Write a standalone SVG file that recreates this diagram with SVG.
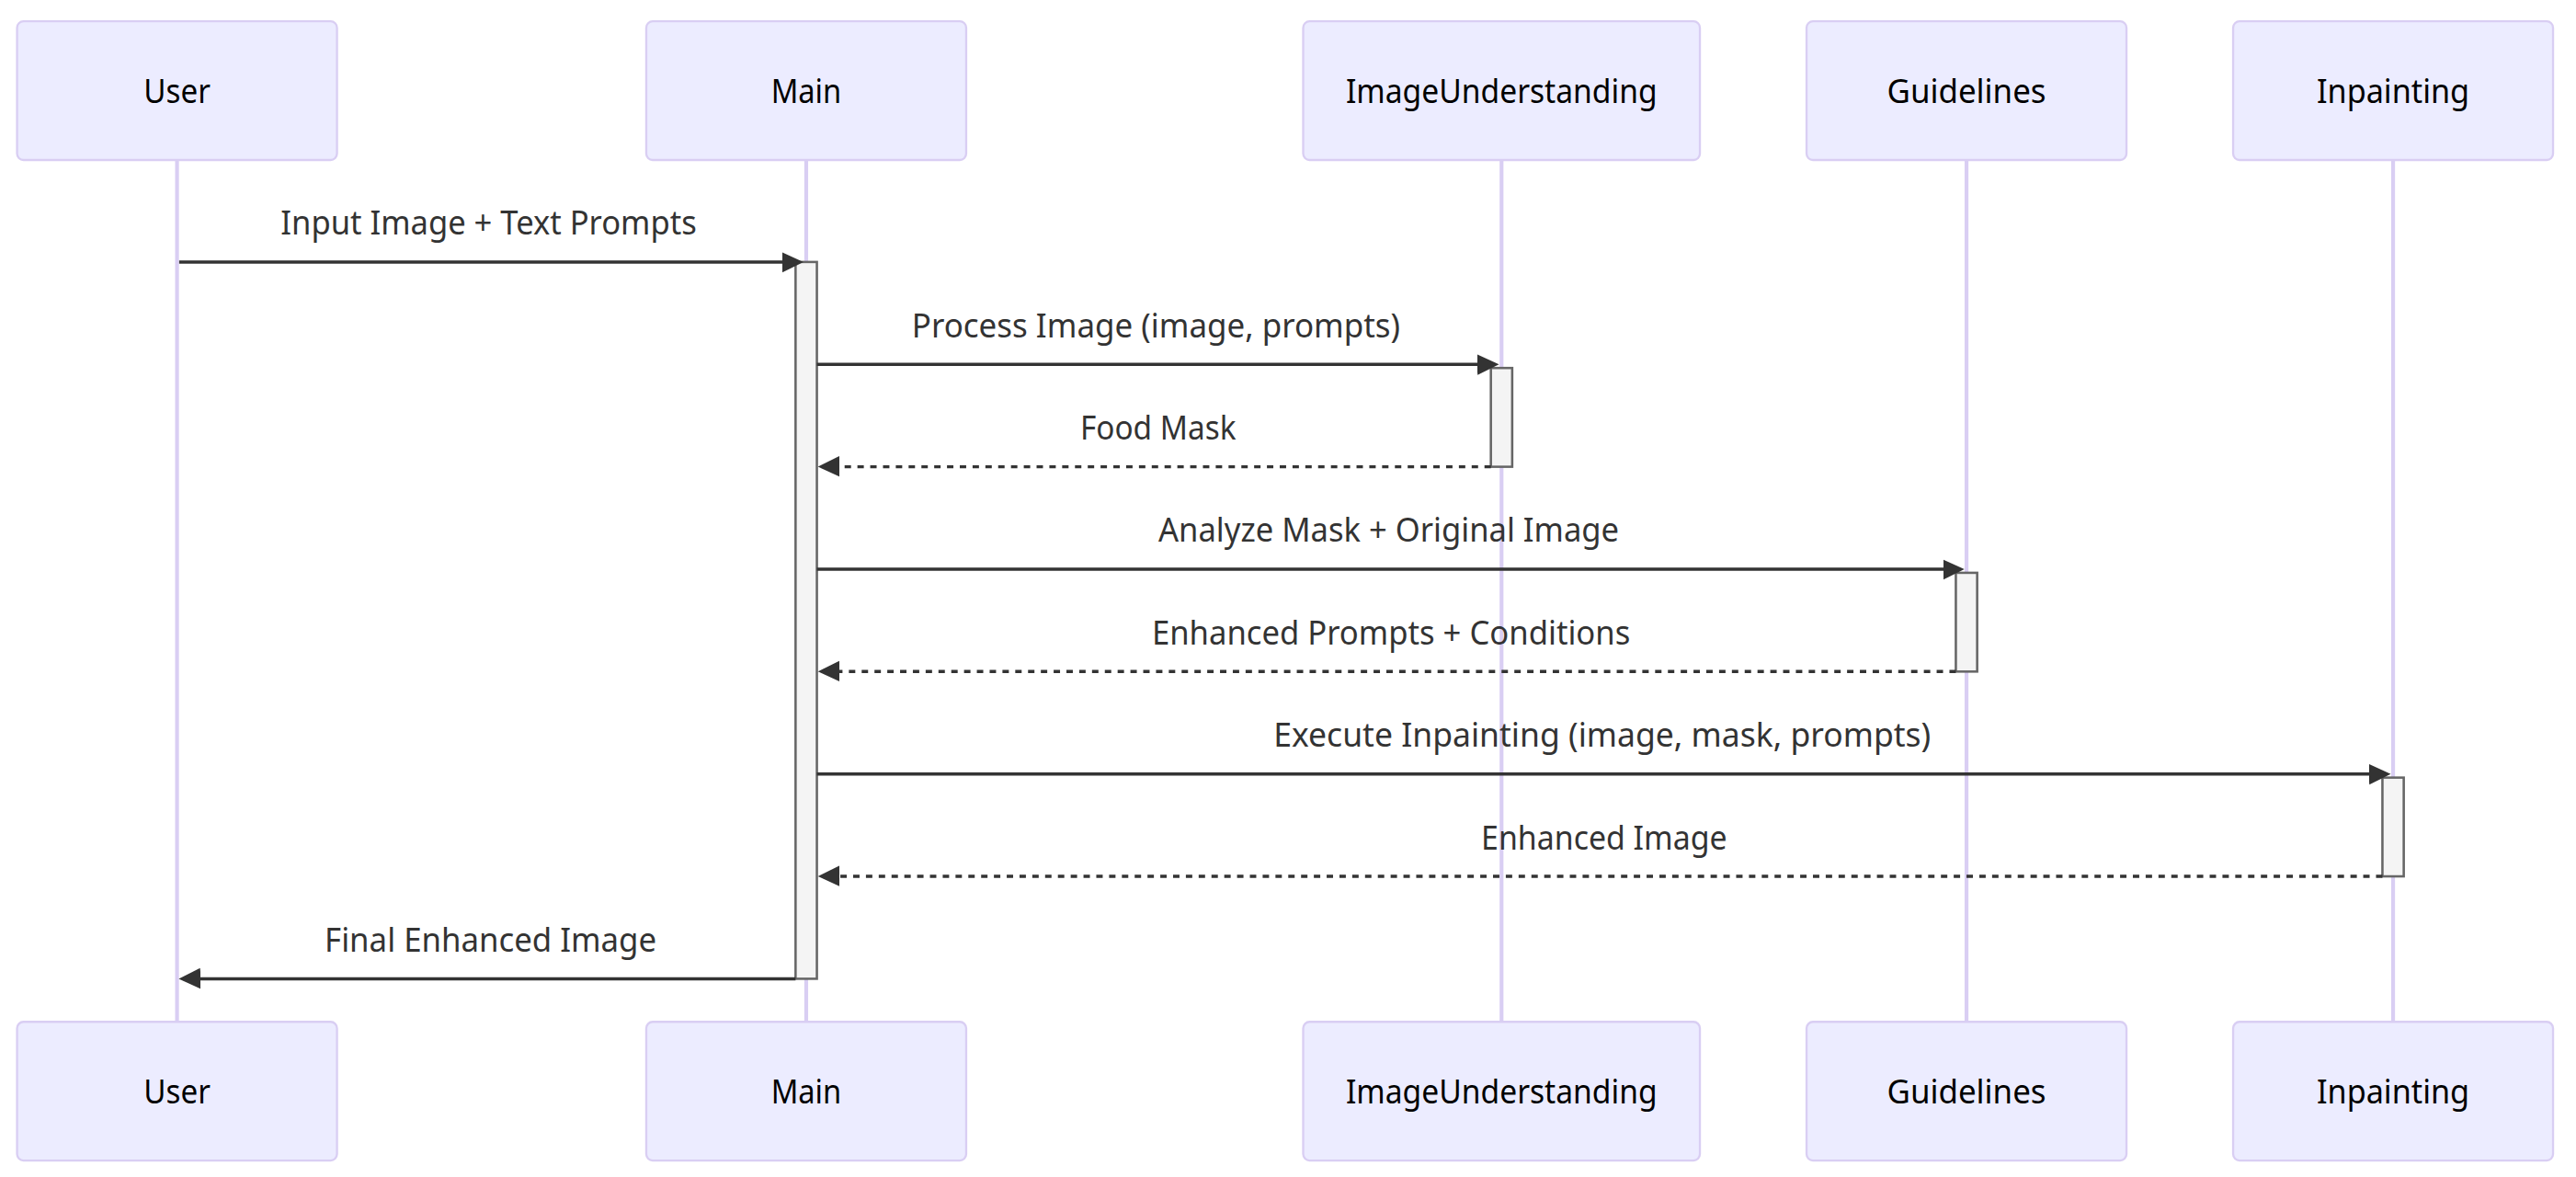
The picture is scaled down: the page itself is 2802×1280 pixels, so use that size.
<svg xmlns="http://www.w3.org/2000/svg" width="2802" height="1280" viewBox="0 0 2802 1280">
<defs>
<style>
.actor{fill:#ECECFF;stroke:#D9CEF3;stroke-width:1}
.actor-text{font-family:"Noto Sans","Open Sans","Liberation Sans",sans-serif;font-size:16px;fill:#000000;text-anchor:middle}
.lifeline{stroke:#D9CEF3;stroke-width:1.8;fill:none}
.activation{fill:#F4F4F4;stroke:#666666;stroke-width:1.1}
.msg{stroke:#333333;stroke-width:1.5;fill:none;marker-end:url(#arrowhead)}
.dashed{stroke-dasharray:3 3}
.msg-text{font-family:"Noto Sans","Open Sans","Liberation Sans",sans-serif;font-size:16px;fill:#333333;text-anchor:middle}
</style>
<marker id="arrowhead" refX="7.9" refY="5" markerUnits="userSpaceOnUse" markerWidth="12" markerHeight="12" orient="auto">
<path d="M -1 0 L 10 5 L 0 10 z" fill="#333333"/>
</marker>
</defs>
<rect x="0" y="0" width="2802" height="1280" fill="#ffffff"/>
<g transform="translate(18.56 23.2) scale(2.32)">
  <g id="actor-User">
    <line class="lifeline" x1="75" y1="65" x2="75" y2="469"/>
    <rect class="actor" x="0" y="0" width="150" height="65" rx="3" ry="3"/>
    <text class="actor-text" x="75" y="38.1" textLength="31.3" lengthAdjust="spacingAndGlyphs">User</text>
    <rect class="actor" x="0" y="469" width="150" height="65" rx="3" ry="3"/>
    <text class="actor-text" x="75" y="507.1" textLength="31.3" lengthAdjust="spacingAndGlyphs">User</text>
  </g>
  <g id="actor-Main">
    <line class="lifeline" x1="370" y1="65" x2="370" y2="469"/>
    <rect class="actor" x="295" y="0" width="150" height="65" rx="3" ry="3"/>
    <text class="actor-text" x="370" y="38.1" textLength="33" lengthAdjust="spacingAndGlyphs">Main</text>
    <rect class="actor" x="295" y="469" width="150" height="65" rx="3" ry="3"/>
    <text class="actor-text" x="370" y="507.1" textLength="33" lengthAdjust="spacingAndGlyphs">Main</text>
  </g>
  <g id="actor-ImageUnderstanding">
    <line class="lifeline" x1="696" y1="65" x2="696" y2="469"/>
    <rect class="actor" x="603" y="0" width="186" height="65" rx="3" ry="3"/>
    <text class="actor-text" x="696" y="38.1" textLength="146" lengthAdjust="spacingAndGlyphs">ImageUnderstanding</text>
    <rect class="actor" x="603" y="469" width="186" height="65" rx="3" ry="3"/>
    <text class="actor-text" x="696" y="507.1" textLength="146" lengthAdjust="spacingAndGlyphs">ImageUnderstanding</text>
  </g>
  <g id="actor-Guidelines">
    <line class="lifeline" x1="914" y1="65" x2="914" y2="469"/>
    <rect class="actor" x="839" y="0" width="150" height="65" rx="3" ry="3"/>
    <text class="actor-text" x="914" y="38.1" textLength="74.6" lengthAdjust="spacingAndGlyphs">Guidelines</text>
    <rect class="actor" x="839" y="469" width="150" height="65" rx="3" ry="3"/>
    <text class="actor-text" x="914" y="507.1" textLength="74.6" lengthAdjust="spacingAndGlyphs">Guidelines</text>
  </g>
  <g id="actor-Inpainting">
    <line class="lifeline" x1="1114" y1="65" x2="1114" y2="469"/>
    <rect class="actor" x="1039" y="0" width="150" height="65" rx="3" ry="3"/>
    <text class="actor-text" x="1114" y="38.1" textLength="71.6" lengthAdjust="spacingAndGlyphs">Inpainting</text>
    <rect class="actor" x="1039" y="469" width="150" height="65" rx="3" ry="3"/>
    <text class="actor-text" x="1114" y="507.1" textLength="71.6" lengthAdjust="spacingAndGlyphs">Inpainting</text>
  </g>
  <g id="activations">
    <rect class="activation" x="365" y="112.8" width="10" height="336"/>
    <rect class="activation" x="691" y="162.5" width="10" height="46.3"/>
    <rect class="activation" x="909" y="258.5" width="10" height="46.3"/>
    <rect class="activation" x="1109" y="354.5" width="10" height="46.3"/>
  </g>
  <g id="connectors">
    <text class="msg-text" x="221.1" y="100.1" textLength="195" lengthAdjust="spacingAndGlyphs">Input Image + Text Prompts</text>
    <line class="msg" x1="76" y1="112.8" x2="366.6" y2="112.8"/>
    <text class="msg-text" x="534" y="148.1" textLength="229" lengthAdjust="spacingAndGlyphs">Process Image (image, prompts)</text>
    <line class="msg" x1="375" y1="160.8" x2="692.7" y2="160.8"/>
    <text class="msg-text" x="535" y="196.1" textLength="73.1" lengthAdjust="spacingAndGlyphs">Food Mask</text>
    <line class="msg dashed" x1="691" y1="208.8" x2="377.6" y2="208.8"/>
    <text class="msg-text" x="643.1" y="244.1" textLength="216" lengthAdjust="spacingAndGlyphs">Analyze Mask + Original Image</text>
    <line class="msg" x1="375" y1="256.8" x2="910.9" y2="256.8"/>
    <text class="msg-text" x="644.2" y="292.1" textLength="224.3" lengthAdjust="spacingAndGlyphs">Enhanced Prompts + Conditions</text>
    <line class="msg dashed" x1="909" y1="304.8" x2="377.6" y2="304.8"/>
    <text class="msg-text" x="743.2" y="340.1" textLength="308.2" lengthAdjust="spacingAndGlyphs">Execute Inpainting (image, mask, prompts)</text>
    <line class="msg" x1="375" y1="352.8" x2="1110.8" y2="352.8"/>
    <text class="msg-text" x="744.1" y="388.1" textLength="115.3" lengthAdjust="spacingAndGlyphs">Enhanced Image</text>
    <line class="msg dashed" x1="1109" y1="400.8" x2="377.6" y2="400.8"/>
    <text class="msg-text" x="222" y="436.1" textLength="155.6" lengthAdjust="spacingAndGlyphs">Final Enhanced Image</text>
    <line class="msg" x1="365" y1="448.8" x2="77.9" y2="448.8"/>
  </g>
</g>
</svg>
